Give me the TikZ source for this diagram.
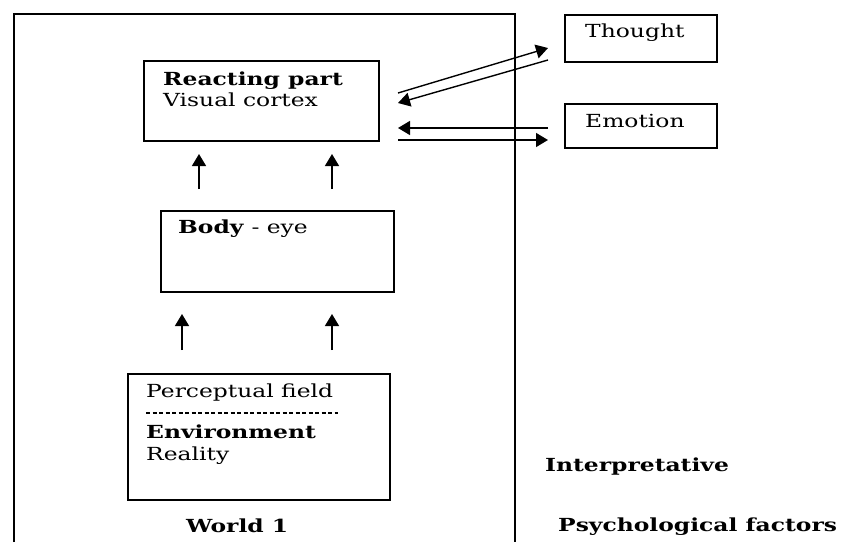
\documentclass[tikz,border=0pt]{standalone}
\usepackage{fontspec}
\setmainfont{DejaVu Serif}[FakeStretch=1.3]
\usetikzlibrary{arrows.meta}
\begin{document}
\begin{tikzpicture}[x=1pt,y=-1pt,
  box/.style={draw, line width=1.5pt, inner sep=0pt, anchor=north west},
  txt/.style={anchor=base west, inner sep=0pt, font=\fontsize{18}{21}\selectfont},
  btxt/.style={anchor=base west, inner sep=0pt, font=\fontsize{18}{21}\selectfont\bfseries},
  arr/.style={line width=1.4pt, -{Triangle[length=12pt,width=14pt]}},
  frame/.style={line width=1.3pt}]
\useasboundingbox (0,0) rectangle (845,542);
% outer frame (open at the bottom)
\draw[frame] (14,542) -- (14,14) -- (515,14) -- (515,542);
% boxes
\node[box, minimum width=235pt, minimum height=80pt] (react) at (143,60) {};
\node[box, minimum width=233pt, minimum height=81pt] (body) at (160,210) {};
\node[box, minimum width=262pt, minimum height=126pt] (field) at (127,373) {};
\node[box, minimum width=152pt, minimum height=47pt] (thought) at (564,14) {};
\node[box, minimum width=152pt, minimum height=44pt] (emotion) at (564,103) {};
% texts
\node[btxt] (t1) at (163,85) {Reacting part};
\node[txt] (t2) at (163,106) {Visual cortex};
\node[txt] (t3) at (178,233) {\textbf{Body} - eye};
\node[txt] (t4) at (146,397) {Perceptual field};
\coordinate (d1) at (146,413);
\coordinate (d2) at (338,413);
\draw[line width=1.2pt, dash pattern=on 4pt off 2.5pt] (d1) -- (d2);
\node[btxt] (t5) at (146,438) {Environment};
\node[txt] (t6) at (146,460) {Reality};
\node[btxt] (t7) at (186,532) {World 1};
\node[txt] (t8) at (585,37) {Thought};
\node[txt] (t9) at (585,127) {Emotion};
\node[btxt] (t10) at (545,471) {Interpretative};
\node[btxt] (t11) at (558,531) {Psychological factors};
% vertical arrows
\coordinate (u1s) at (199,189); \coordinate (u1e) at (199,154);
\coordinate (u2s) at (332,189); \coordinate (u2e) at (332,154);
\coordinate (u3s) at (182,350); \coordinate (u3e) at (182,314);
\coordinate (u4s) at (332,350); \coordinate (u4e) at (332,314);
\draw[arr] (u1s) -- (u1e);
\draw[arr] (u2s) -- (u2e);
\draw[arr] (u3s) -- (u3e);
\draw[arr] (u4s) -- (u4e);
% arrows to/from Thought and Emotion
\coordinate (a1s) at (398,93);  \coordinate (a1e) at (548,48);
\coordinate (a2s) at (548,60);  \coordinate (a2e) at (398,103);
\coordinate (a3s) at (548,128); \coordinate (a3e) at (398,128);
\coordinate (a4s) at (398,140); \coordinate (a4e) at (548,140);
\draw[arr] (a1s) -- (a1e);
\draw[arr] (a2s) -- (a2e);
\draw[arr] (a3s) -- (a3e);
\draw[arr] (a4s) -- (a4e);
\end{tikzpicture}
\end{document}
